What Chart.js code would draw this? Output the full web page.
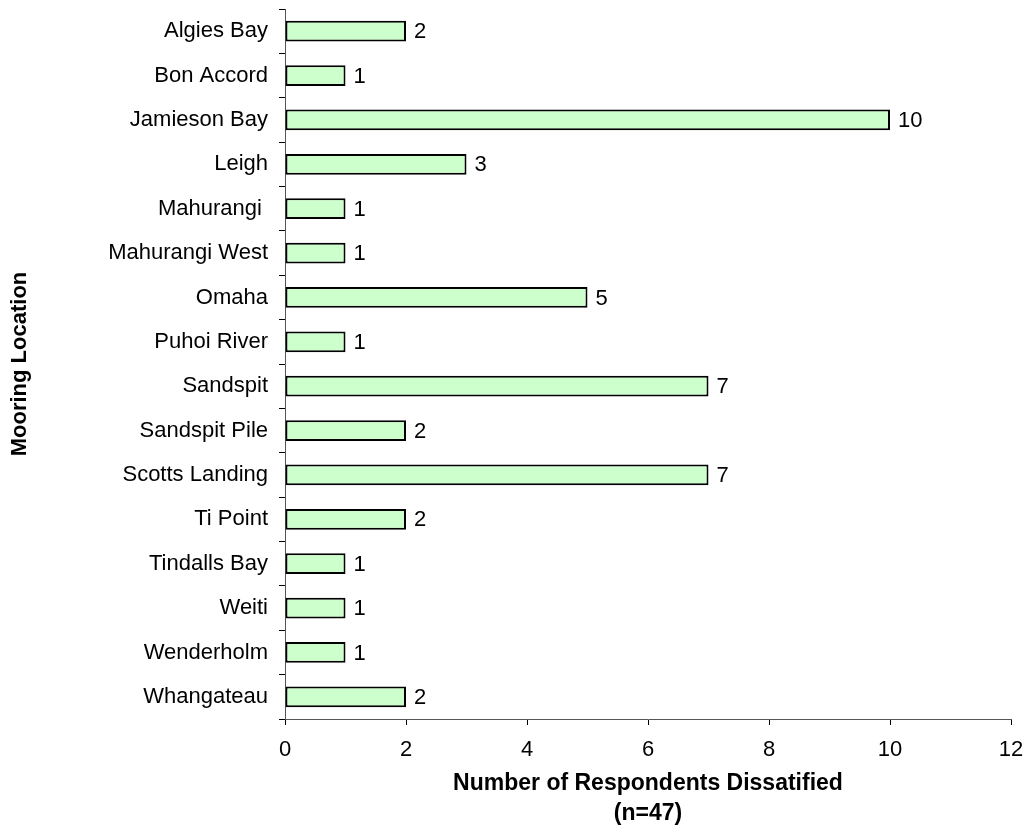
<!DOCTYPE html>
<html>
<head>
<meta charset="utf-8">
<script src="https://cdn.jsdelivr.net/npm/chart.js@4"></script>
<style>
html,body{margin:0;padding:0;background:#fff;}
#wrap{width:1025px;height:832px;}
</style>
</head>
<body>
<div id="wrap"><canvas id="c" width="1025" height="832"></canvas></div>
<script>
const categories = ["Algies Bay","Bon Accord","Jamieson Bay","Leigh","Mahurangi ","Mahurangi West","Omaha","Puhoi River","Sandspit","Sandspit Pile","Scotts Landing","Ti Point","Tindalls Bay","Weiti","Wenderholm","Whangateau"];
const dissatisfied = [2,1,10,3,1,1,5,1,7,2,7,2,1,1,1,2];
const xTicks = [0,2,4,6,8,10,12];
const xTitle = ["Number of Respondents Dissatified","(n=47)"];
const yTitle = "Mooring Location";

const FONT = '"Liberation Sans", Arial, sans-serif';

const labelPlugin = {
  id: 'barLabels',
  afterDatasetsDraw(chart) {
    const ctx = chart.ctx;
    const meta = chart.getDatasetMeta(0);
    ctx.save();
    ctx.font = '22px ' + FONT;
    ctx.fillStyle = '#000';
    ctx.textAlign = 'left';
    ctx.textBaseline = 'middle';
    meta.data.forEach((el, i) => {
      ctx.fillText(String(dissatisfied[i]), el.x + 8, el.y + 1);
    });
    ctx.restore();
  }
};

new Chart(document.getElementById('c'), {
  type: 'bar',
  data: {
    labels: categories,
    datasets: [{
      data: dissatisfied,
      backgroundColor: '#CCFFCC',
      borderColor: '#000',
      borderWidth: 2,
      borderSkipped: false,
      barPercentage: 0.9,
      categoryPercentage: 0.52
    }]
  },
  options: {
    indexAxis: 'y',
    responsive: false,
    animation: false,
    layout: { padding: { top: 9, right: 14, left: 0, bottom: 0 } },
    plugins: { legend: { display: false }, tooltip: { enabled: false } },
    scales: {
      x: {
        min: 0, max: 12,
        afterFit(scale) { scale.height = 113; scale.paddingLeft = 0; scale.paddingRight = 0; },
        afterBuildTicks(scale) { scale.ticks = xTicks.map(v => ({ value: v })); },
        ticks: { stepSize: 2, color: '#000', padding: 12, font: { family: FONT, size: 22 } },
        grid: { display: true, drawOnChartArea: false, drawTicks: true, tickLength: 6, color: '#000' },
        border: { display: true, color: '#555', width: 1 },
        title: { display: true, text: xTitle, color: '#000', padding: { top: 0, bottom: 3 },
          font: { family: FONT, size: 23, weight: 'bold', lineHeight: '30px' } }
      },
      y: {
        afterFit(scale) { scale.width = 285; scale.paddingTop = 0; scale.paddingBottom = 0; },
        ticks: { color: '#000', padding: 11, autoSkip: false, font: { family: FONT, size: 22 } },
        grid: { display: true, drawOnChartArea: false, drawTicks: true, tickLength: 6, color: '#000', offset: true },
        border: { display: true, color: '#555', width: 1 },
        title: { display: true, text: yTitle, color: '#000', padding: { top: 6, bottom: 0 },
          font: { family: FONT, size: 22, weight: 'bold', lineHeight: '28px' } }
      }
    }
  },
  plugins: [labelPlugin]
});
</script>
</body>
</html>
